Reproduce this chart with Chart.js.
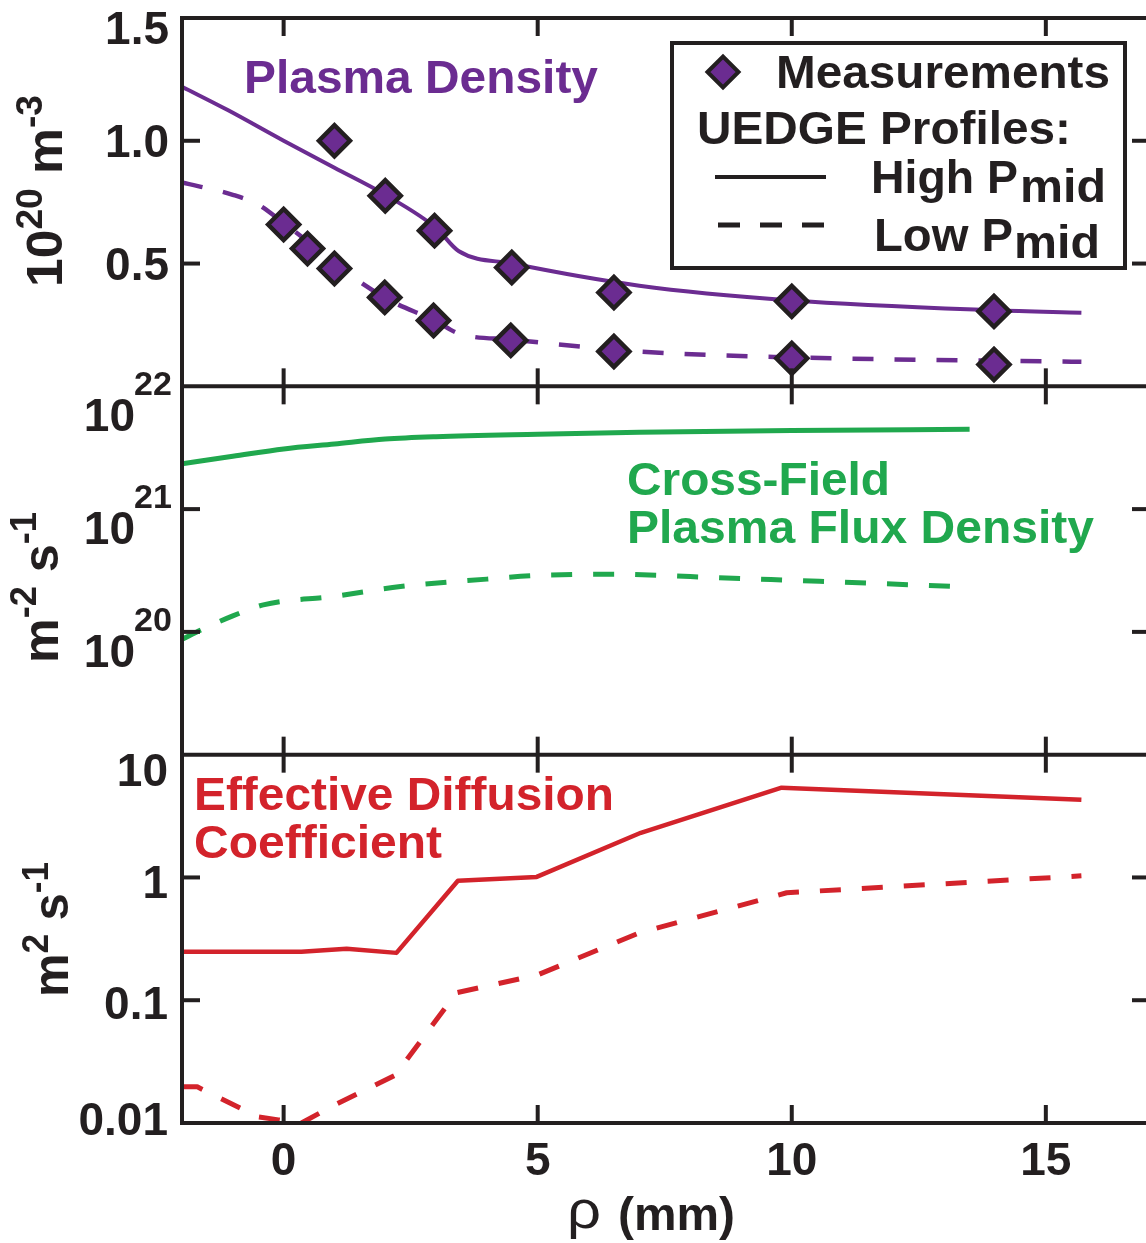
<!DOCTYPE html>
<html><head><meta charset="utf-8">
<style>
html,body{margin:0;padding:0;background:#fff;overflow:hidden;}
#wrap{position:relative;width:1146px;height:1243px;overflow:hidden;background:#fff;}
canvas{display:block;}
</style>
<script src="https://cdn.jsdelivr.net/npm/chart.js@4.4.1/dist/chart.umd.min.js"></script>
</head><body>
<div id="wrap"><canvas id="c" width="1160" height="1243" style="width:1160px;height:1243px"></canvas></div>
<script>
// ---------------- data ----------------
const xTickValues = [0, 5, 10, 15];
const xTickLabels = ['0', '5', '10', '15'];

const densityTickValues = [1.5, 1.0, 0.5];
const densityTickLabels = ['1.5', '1.0', '0.5'];
const fluxTickValues = [1e22, 1e21, 1e20];
const fluxTickExponents = ['22', '21', '20'];
const diffTickValues = [10, 1, 0.1, 0.01];
const diffTickLabels = ['10', '1', '0.1', '0.01'];

// Measurements (diamonds)
const measHighX = [1.0, 2.0, 2.97, 4.49, 6.5, 10.0, 13.98];
const measHighY = [1.0, 0.776, 0.634, 0.484, 0.382, 0.346, 0.305];
const measLowX = [0, 0.47, 1.0, 1.99, 2.95, 4.47, 6.5, 10.0, 13.98];
const measLowY = [0.659, 0.561, 0.48, 0.362, 0.268, 0.187, 0.142, 0.114, 0.089];

// UEDGE density profiles (1e20 m^-3)
const denHighX = [-2, -1.1, 0, 1, 2, 3, 3.45, 4.5, 7, 10, 14, 15.7];
const denHighY = [1.22, 1.125, 1.0, 0.89, 0.78, 0.645, 0.55, 0.50, 0.41, 0.35, 0.31, 0.30];
const denLowX = [-2, -1, -0.5, 0, 0.5, 1, 2, 3, 3.45, 4.5, 7, 10, 15.7];
const denLowY = [0.83, 0.78, 0.74, 0.665, 0.585, 0.50, 0.36, 0.265, 0.215, 0.19, 0.142, 0.118, 0.10];

// Cross-field plasma flux density (m^-2 s^-1)
const fluxHighX = [-2, -1, 0, 1, 2, 3, 5, 7, 10, 13.5];
const fluxHighY = [2.34e21, 2.69e21, 3.09e21, 3.39e21, 3.72e21, 3.89e21, 4.07e21, 4.22e21, 4.37e21, 4.47e21];
const fluxLowX = [-2, -1.6, -1, -0.4, 1, 2.3, 4, 5, 6.5, 8, 10, 13.3];
const fluxLowY = [8.7e19, 1.05e20, 1.35e20, 1.66e20, 1.95e20, 2.34e20, 2.69e20, 2.88e20, 2.95e20, 2.82e20, 2.63e20, 2.34e20];

// Effective diffusion coefficient (m^2 s^-1)
const diffHighX = [-2, 0.35, 1.24, 2.22, 3.43, 4.98, 7.03, 9.8, 15.7];
const diffHighY = [0.248, 0.248, 0.262, 0.243, 0.94, 1.01, 2.31, 5.38, 4.3];
const diffLowX = [-2, -1.7, -0.5, -0.1, 0.35, 1.0, 2.2, 3.4, 5.0, 7.0, 9.9, 15.7];
const diffLowY = [0.0197, 0.0197, 0.0112, 0.0106, 0.0100, 0.014, 0.0246, 0.115, 0.161, 0.354, 0.75, 1.03];

// ---------------- styles ----------------
const AXIS = '#231f20';
const PURPLE = '#6b2c91';
const GREEN = '#20a84e';
const RED = '#d3232b';
const FONT = '"Liberation Sans", Arial, Helvetica, sans-serif';
const DASH = [21, 21];

const pts = (xs, ys) => xs.map((x, i) => ({x, y: ys[i]}));

function lineDs(xs, ys, color, axis, dashed, w, mono) {
  return {
    data: pts(xs, ys), yAxisID: axis, showLine: true,
    borderColor: color, backgroundColor: color, borderWidth: w || 4,
    borderDash: dashed ? DASH : [], pointRadius: 0, fill: false,
    cubicInterpolationMode: mono ? 'monotone' : 'default', tension: 0,
    borderCapStyle: 'butt', borderJoinStyle: 'round'
  };
}
function measDs(xs, ys) {
  return {
    data: pts(xs, ys), yAxisID: 'yDen', showLine: false,
    pointStyle: 'rectRot', pointRadius: 15.5, pointBorderWidth: 4.5,
    pointBackgroundColor: PURPLE, pointBorderColor: AXIS
  };
}

function fitText(ctx, s, x, y, size, color, targetW, align, weight) {
  ctx.save();
  ctx.font = (weight || 'bold') + ' ' + size + 'px ' + FONT;
  ctx.fillStyle = color;
  ctx.textBaseline = 'alphabetic';
  ctx.textAlign = 'left';
  const w = ctx.measureText(s).width;
  const sx = targetW ? targetW / w : 1;
  let dx = 0;
  if (align === 'right') dx = -w * sx; else if (align === 'center') dx = -w * sx / 2;
  ctx.translate(x + dx, y);
  ctx.scale(sx, 1);
  ctx.fillText(s, 0, 0);
  ctx.restore();
}

// rich text along a baseline (segments: [text, size, raise])
function richText(ctx, segs, color, targetLen) {
  let total = 0;
  segs.forEach(sg => { ctx.font = 'bold ' + sg[1] + 'px ' + FONT; total += ctx.measureText(sg[0]).width; });
  const sx = targetLen ? targetLen / total : 1;
  ctx.save();
  ctx.scale(sx, 1);
  ctx.fillStyle = color;
  ctx.textBaseline = 'alphabetic';
  ctx.textAlign = 'left';
  let x = 0;
  segs.forEach(sg => {
    ctx.font = 'bold ' + sg[1] + 'px ' + FONT;
    ctx.fillText(sg[0], x, -sg[2]);
    x += ctx.measureText(sg[0]).width;
  });
  ctx.restore();
}

const framePlugin = {
  id: 'frame',
  afterDatasetsDraw(chart) {
    const ctx = chart.ctx;
    const xs = chart.scales.x;
    const yD = chart.scales.yDen, yF = chart.scales.yFlux, yC = chart.scales.yDiff;
    const L = chart.chartArea.left, R = chart.chartArea.right;
    const T = chart.chartArea.top, B = chart.chartArea.bottom;
    const TL = 18;
    ctx.save();
    ctx.strokeStyle = AXIS; ctx.lineWidth = 4; ctx.lineCap = 'butt';
    const seg = (x1, y1, x2, y2) => { ctx.beginPath(); ctx.moveTo(x1, y1); ctx.lineTo(x2, y2); ctx.stroke(); };
    // frame
    seg(L, T - 2, L, B + 2);
    seg(R, T - 2, R, B + 2);
    [yD.top, yF.top, yC.top, yC.bottom].forEach(y => seg(L - 2, y, R + 2, y));
    // x ticks on every panel
    xTickValues.forEach(v => {
      const px = xs.getPixelForValue(v);
      [yD, yF, yC].forEach(s => { seg(px, s.top, px, s.top + TL); seg(px, s.bottom, px, s.bottom - TL); });
    });
    // y ticks
    const yt = (s, v) => { const py = s.getPixelForValue(v); seg(L, py, L + TL, py); seg(R, py, R - TL, py); };
    [1.0, 0.5].forEach(v => yt(yD, v));
    [1e21, 1e20].forEach(v => yt(yF, v));
    [1, 0.1].forEach(v => yt(yC, v));
    ctx.restore();

    // ---- tick labels ----
    const LBL = 46;
    const denOff = [10, 0, 0];
    densityTickValues.forEach((v, i) => {
      fitText(ctx, densityTickLabels[i], 169, yD.getPixelForValue(v) + denOff[i] + 16, LBL, AXIS, null, 'right');
    });
    const fluxOff = [10, 0, 0];
    fluxTickValues.forEach((v, i) => {
      const py = yF.getPixelForValue(v) + fluxOff[i];
      fitText(ctx, '10', 135, py + 35, LBL, AXIS, null, 'right');
      fitText(ctx, fluxTickExponents[i], 134, py - 1, 34, AXIS, null, 'left');
    });
    const diffOff = [15, 5, 3, -4];
    diffTickValues.forEach((v, i) => {
      fitText(ctx, diffTickLabels[i], 168, yC.getPixelForValue(v) + diffOff[i] + 16, LBL, AXIS, null, 'right');
    });
    xTickValues.forEach((v, i) => {
      fitText(ctx, xTickLabels[i], xs.getPixelForValue(v), 1175, LBL, AXIS, null, 'center');
    });

    // ---- axis titles ----
    fitText(ctx, 'ρ', 567, 1228, 54, AXIS, 34, 'left', 'normal');
    fitText(ctx, '(mm)', 618, 1230, 47, AXIS, 117, 'left');

    ctx.save(); ctx.translate(62, 287); ctx.rotate(-Math.PI / 2);
    richText(ctx, [['10', 50, 0], ['20', 36, 20], [' m', 50, 0], ['-3', 36, 20]], AXIS, 192);
    ctx.restore();
    ctx.save(); ctx.translate(58, 663); ctx.rotate(-Math.PI / 2);
    richText(ctx, [['m', 50, 0], ['-2', 36, 22], [' s', 50, 0], ['-1', 36, 22]], AXIS, 151);
    ctx.restore();
    ctx.save(); ctx.translate(68, 997); ctx.rotate(-Math.PI / 2);
    richText(ctx, [['m', 50, 0], ['2', 36, 20], [' s', 50, 0], ['-1', 36, 20]], AXIS, 135);
    ctx.restore();

    // ---- panel annotations ----
    fitText(ctx, 'Plasma Density', 244, 93, 47, PURPLE, 354, 'left');
    fitText(ctx, 'Cross-Field', 627, 495, 47, GREEN, 263, 'left');
    fitText(ctx, 'Plasma Flux Density', 627, 543, 47, GREEN, 467, 'left');
    fitText(ctx, 'Effective Diffusion', 194, 810, 47, RED, 420, 'left');
    fitText(ctx, 'Coefficient', 194, 858, 47, RED, 248, 'left');

    // ---- legend ----
    ctx.save();
    ctx.fillStyle = '#fff';
    ctx.fillRect(672, 43, 453, 225);
    ctx.strokeStyle = AXIS; ctx.lineWidth = 4;
    ctx.strokeRect(672, 43, 453, 225);
    ctx.fillStyle = PURPLE; ctx.strokeStyle = AXIS;
    Chart.helpers.drawPoint(ctx, {pointStyle: 'rectRot', radius: 15.5, borderWidth: 4.5, rotation: 0}, 723, 72);
    ctx.lineWidth = 4;
    seg(715, 177, 826, 177);
    ctx.setLineDash([22, 20]); ctx.lineWidth = 5;
    seg(718, 225, 827, 225);
    ctx.restore();
    fitText(ctx, 'Measurements', 776, 88, 47, AXIS, 334, 'left');
    fitText(ctx, 'UEDGE Profiles:', 697, 144, 47, AXIS, 374, 'left');
    fitText(ctx, 'High P', 871, 193, 47, AXIS, 147, 'left');
    fitText(ctx, 'mid', 1020, 202, 47, AXIS, 86, 'left');
    fitText(ctx, 'Low P', 874, 251, 47, AXIS, 139, 'left');
    fitText(ctx, 'mid', 1014, 258, 47, AXIS, 86, 'left');
  }
};

new Chart(document.getElementById('c'), {
  type: 'scatter',
  data: {
    datasets: [
      measDs(measHighX, measHighY),
      measDs(measLowX, measLowY),
      lineDs(denHighX, denHighY, PURPLE, 'yDen', false, 4, true),
      lineDs(denLowX, denLowY, PURPLE, 'yDen', true, 4.5, true),
      lineDs(fluxHighX, fluxHighY, GREEN, 'yFlux', false, 5, true),
      lineDs(fluxLowX, fluxLowY, GREEN, 'yFlux', true, 5, true),
      lineDs(diffHighX, diffHighY, RED, 'yDiff', false, 4.5, false),
      lineDs(diffLowX, diffLowY, RED, 'yDiff', true, 5, false)
    ]
  },
  options: {
    responsive: false,
    animation: false,
    devicePixelRatio: 1,
    layout: {autoPadding: false, padding: {left: 182, top: 18, right: 10, bottom: 120}},
    plugins: {legend: {display: false}, tooltip: {enabled: false}},
    scales: {
      x: {type: 'linear', min: -2, max: 17.05, display: false},
      yDen: {type: 'linear', min: 0, max: 1.5, display: false, position: 'right', stack: 'panels', stackWeight: 1},
      yFlux: {type: 'logarithmic', min: 1e19, max: 1e22, display: false, position: 'right', stack: 'panels', stackWeight: 1},
      yDiff: {type: 'logarithmic', min: 0.01, max: 10, display: false, position: 'right', stack: 'panels', stackWeight: 1}
    }
  },
  plugins: [framePlugin]
});
</script>
</body></html>
